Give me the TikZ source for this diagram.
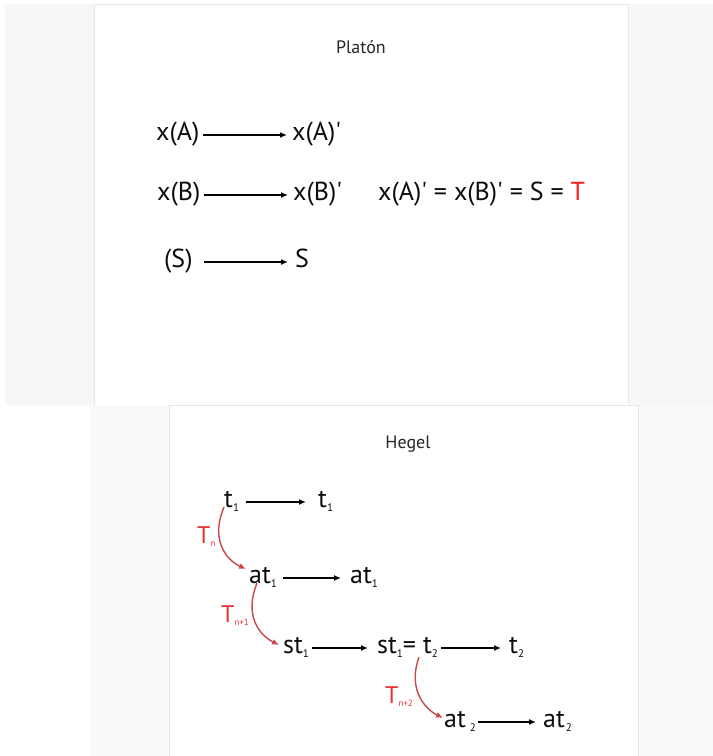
\documentclass[tikz,border=0pt]{standalone}
\usepackage{fontspec}
\setmainfont{PT Sans}
\usetikzlibrary{arrows.meta}
\definecolor{slideRed}{HTML}{FF1A1A}
\definecolor{curveRed}{HTML}{C9484A}
\definecolor{labelRed}{HTML}{E8302E}
\definecolor{frameGray}{HTML}{E6E6E6}
\definecolor{backGray}{HTML}{F7F7F7}
\newcommand{\lo}[1]{\raisebox{-4pt}{\fontsize{11}{11}\selectfont#1}}
\newcommand{\tlo}[1]{\raisebox{-3pt}{\fontsize{9}{9}\selectfont#1}}
\newcommand{\pr}{\textquotesingle}

\begin{document}
\begin{tikzpicture}[x=1pt,y=-1pt,
  term/.style={inner sep=0pt,anchor=base west,text height=1em,text depth=0pt,text=black!95,font=\fontsize{26}{30}\selectfont},
  title/.style={inner sep=0pt,anchor=base,text=black!85,font=\fontsize{18}{21}\selectfont},
  rlabel/.style={inner sep=0pt,anchor=base west,text=labelRed,font=\fontsize{24}{28}\selectfont},
  flow/.style={-{Latex[length=7pt,width=6pt]},line width=1.7pt,shorten <=3pt,shorten >=5pt},
  turn/.style={-{Latex[length=7pt,width=6pt]},line width=1.4pt,draw=curveRed}]
\useasboundingbox (0,0) rectangle (713,756);
\fill[white] (0,0) rectangle (713,756);
% the two slides
\fill[backGray] (5,4) rectangle (713,405);
\filldraw[fill=white,draw=frameGray,line width=0.8pt] (94,4) rectangle (628,405);
\fill[backGray!70] (90,405) rectangle (713,756);
\filldraw[fill=white,draw=frameGray,line width=0.8pt] (169,405) rectangle (638,757);

% Platon
\node[title] (platon) at (361,53) {Platón};
\node[term] (xa) at (156,140) {x(A)};
\node[term] (xap) at (292,140) {x(A)\pr};
\node[term] (xb) at (157,200) {x(B)};
\node[term] (xbp) at (293,200) {x(B)\pr};
\node[term] (eq) at (378,200) {x(A)\pr{} = x(B)\pr{} = S = \textcolor{slideRed}{T}};
\node[term] (sl) at (164,267) {(S)};
\node[term] (s) at (295,267) {S};
\draw[flow] (xa) -- (xap);
\draw[flow] (xb) -- (xbp);
\draw[flow,shorten <=11pt,shorten >=7pt] (sl) -- (s);

% Hegel
\node[title] (hegel) at (408,448) {Hegel};
\node[term] (t1a) at (224,507) {t\lo{1}};
\node[term] (t1b) at (318,507) {t\lo{1}};
\node[term] (at1a) at (249,583) {at\lo{1}};
\node[term] (at1b) at (350,583) {at\lo{1}};
\node[term] (st1a) at (283,653) {st\lo{1}};
\node[term] (st1b) at (377,653) {st\lo{1}= t\lo{2}};
\node[term] (t2) at (509,653) {t\lo{2}};
\node[term] (at2a) at (444,727) {at\hspace{4pt}\lo{2}};
\node[term] (at2b) at (543,727) {at\hspace{1pt}\lo{2}};
\draw[flow,shorten <=7pt,shorten >=12pt] (t1a) -- (t1b);
\draw[flow,shorten <=6pt,shorten >=9pt] (at1a) -- (at1b);
\draw[flow,shorten >=9pt] (st1a) -- (st1b);
\draw[flow,shorten >=8pt] (st1b) -- (t2);
\draw[flow,shorten <=2pt,shorten >=7pt] (at2a) -- (at2b);

% red steps
\node[rlabel] (tn) at (197,543) {T\tlo{n}};
\node[rlabel] (tn1) at (221,622) {T\tlo{n+1}};
\node[rlabel] (tn2) at (385,703) {T\tlo{n+2}};
\draw[turn] (t1a.south west) .. controls +(-13,30) and +(-22,-10) .. ([shift={(-3pt,9pt)}]at1a.west);
\draw[turn] ([xshift=8pt]at1a.south west) .. controls +(-13,32) and +(-20,-10) .. ([shift={(-4pt,3pt)}]st1a.west);
\draw[turn] ([shift={(42pt,-4pt)}]st1b.south west) .. controls +(-11,30) and +(-20,-10) .. ([shift={(-1pt,4pt)}]at2a.west);
\end{tikzpicture}
\end{document}
